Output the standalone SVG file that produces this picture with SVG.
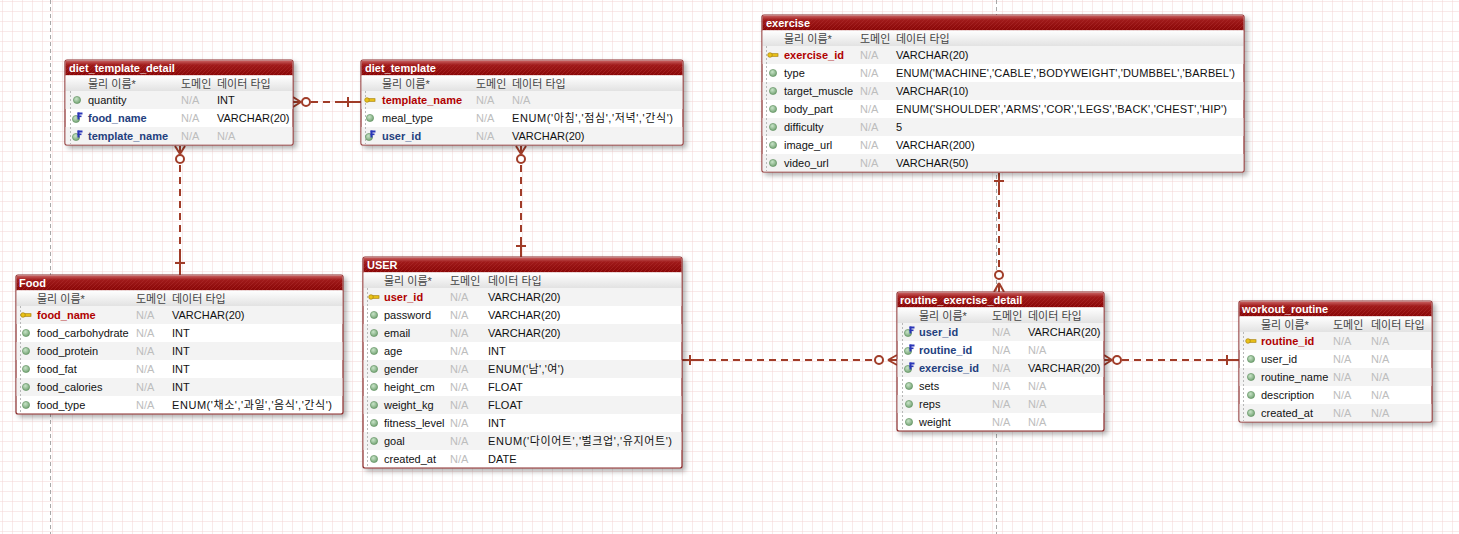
<svg xmlns="http://www.w3.org/2000/svg" width="1459" height="534" viewBox="0 0 1459 534">
<style>
.box{fill:#fff;stroke:#8a2c2c;stroke-width:1.2}
.tb{fill:url(#tg)}
.hatch{fill:url(#hp)}
.hd{fill:url(#hg)}
.alt{fill:#f3f3f3}
.vd{stroke:#b8b8b8;stroke-width:1;stroke-dasharray:2 2}
text{font-family:"Liberation Sans","Noto Sans CJK KR",sans-serif;font-size:11px}
.tt{font-weight:bold;fill:#fff}
.h{fill:#444}
.c{fill:#111}
.pk{font-weight:bold;fill:#b00000}
.fk{font-weight:bold;fill:#23407e}
.na{fill:#bdbdbd}
.ln{stroke:#a03c28;stroke-width:2;fill:none;stroke-dasharray:7 5}
.sl{stroke:#a03c28;stroke-width:2;fill:none}
.ci{stroke:#a03c28;stroke-width:2;fill:#fff}
.dot{fill:url(#gd);stroke:#5d8f5d;stroke-width:0.6}
.key{fill:#e9c21a;stroke:#a8820a;stroke-width:0.7}
.flag{fill:#2a36b8}
.page{stroke:#a8a8a8;stroke-width:1;stroke-dasharray:4 3}
</style>
<defs>
<pattern id="grid" width="10" height="10" patternUnits="userSpaceOnUse" x="3" y="2">
<path d="M10 0V10M0 10H10" stroke="#f2d4d4" stroke-width="1" fill="none"/>
</pattern>
<linearGradient id="tg" x1="0" y1="0" x2="0" y2="1">
<stop offset="0" stop-color="#c86060"/>
<stop offset="0.3" stop-color="#a01a1a"/>
<stop offset="1" stop-color="#880606"/>
</linearGradient>
<pattern id="hp" width="4" height="4" patternUnits="userSpaceOnUse">
<path d="M0 4L4 0" stroke="#b03030" stroke-width="1" opacity="0.5"/>
</pattern>
<linearGradient id="hg" x1="0" y1="0" x2="0" y2="1">
<stop offset="0" stop-color="#ffffff"/>
<stop offset="1" stop-color="#e2e2e2"/>
</linearGradient>
<radialGradient id="gd" cx="0.4" cy="0.35" r="0.7">
<stop offset="0" stop-color="#c8e4c8"/>
<stop offset="1" stop-color="#6f9f6f"/>
</radialGradient>
<filter id="sh" x="-5%" y="-5%" width="115%" height="125%">
<feDropShadow dx="3" dy="3" stdDeviation="2.5" flood-color="#000" flood-opacity="0.3"/>
</filter>
<g id="ipk"><rect x="-1.5" y="-1.3" width="6.5" height="2.6" class="key"/><circle cx="-3" cy="0" r="2.3" class="key"/></g>
<g id="icol"><circle cx="0" cy="0" r="3.6" class="dot"/></g>
<g id="ifk"><circle cx="-1" cy="1" r="3.6" class="dot"/><rect x="0.5" y="-5.5" width="2" height="7" class="flag"/><rect x="0.5" y="-5.5" width="5" height="2" class="flag"/><rect x="0.5" y="-2.5" width="4" height="1.6" class="flag"/></g>
</defs>

<rect width="1459" height="534" fill="#fff"/>
<rect width="1459" height="534" fill="url(#grid)"/>
<line x1="50.5" y1="0" x2="50.5" y2="534" class="page"/>
<line x1="996.5" y1="0" x2="996.5" y2="534" class="page"/>

<g id="connectors">
<path d="M301 102L293 97M301 102H293M301 102L293 107" class="sl"/>
<circle cx="306" cy="102" r="4" class="ci"/>
<line x1="311" y1="102" x2="342" y2="102" class="ln"/>
<path d="M342 102H361M348 97V107" class="sl"/>
<path d="M180 154L175 146M180 154V146M180 154L185 146" class="sl"/>
<circle cx="180" cy="159" r="4" class="ci"/>
<line x1="180" y1="165" x2="180" y2="256" class="ln"/>
<path d="M180 256V275M175 263H185" class="sl"/>
<path d="M521 154L516 146M521 154V146M521 154L526 146" class="sl"/>
<circle cx="521" cy="159" r="4" class="ci"/>
<line x1="521" y1="165" x2="521" y2="240" class="ln"/>
<path d="M521 240V257M516 246H526" class="sl"/>
<path d="M682 360H697M690 355V365" class="sl"/>
<line x1="697" y1="360" x2="874" y2="360" class="ln"/>
<circle cx="879" cy="360" r="4" class="ci"/>
<path d="M888 360L897 355M888 360H897M888 360L897 365" class="sl"/>
<path d="M1112 360L1104 355M1112 360H1104M1112 360L1104 365" class="sl"/>
<circle cx="1117" cy="360" r="4" class="ci"/>
<line x1="1122" y1="360" x2="1221" y2="360" class="ln"/>
<path d="M1221 360H1239M1227 355V365" class="sl"/>
<path d="M999 173V188M994 181H1004" class="sl"/>
<line x1="999" y1="188" x2="999" y2="270" class="ln"/>
<circle cx="999" cy="275" r="4" class="ci"/>
<path d="M999 283L994 292M999 283V292M999 283L1004 292" class="sl"/>
</g>

<g id="diet_template_detail">
<rect x="65" y="60" width="228" height="85" rx="2" class="box" filter="url(#sh)"/>
<rect x="65.6" y="60.6" width="226.8" height="14.8" class="tb"/>
<rect x="65.6" y="64" width="226.8" height="11.4" class="hatch"/>
<rect x="65.6" y="75.4" width="226.8" height="15.6" class="hd"/>
<rect x="65.6" y="91" width="226.8" height="18" class="alt"/>
<rect x="65.6" y="127" width="226.8" height="17.4" class="alt"/>
<line x1="70.5" y1="91" x2="70.5" y2="144" class="vd"/>
<text x="69" y="72" class="tt">diet_template_detail</text>
<text x="88" y="87.5" class="h">물리 이름*</text><text x="181" y="87.5" class="h">도메인</text><text x="217" y="87.5" class="h">데이터 타입</text>
<use href="#icol" x="77" y="100"/><text x="88" y="104" class="c">quantity</text><text x="181" y="104" class="na">N/A</text><text x="217" y="104" class="c">INT</text>
<use href="#ifk" x="77" y="118"/><text x="88" y="122" class="fk">food_name</text><text x="181" y="122" class="na">N/A</text><text x="217" y="122" class="c">VARCHAR(20)</text>
<use href="#ifk" x="77" y="136"/><text x="88" y="140" class="fk">template_name</text><text x="181" y="140" class="na">N/A</text><text x="217" y="140" class="na">N/A</text>
</g>

<g id="diet_template">
<rect x="361" y="60" width="322" height="85" rx="2" class="box" filter="url(#sh)"/>
<rect x="361.6" y="60.6" width="320.8" height="14.8" class="tb"/>
<rect x="361.6" y="64" width="320.8" height="11.4" class="hatch"/>
<rect x="361.6" y="75.4" width="320.8" height="15.6" class="hd"/>
<rect x="361.6" y="91" width="320.8" height="18" class="alt"/>
<rect x="361.6" y="127" width="320.8" height="17.4" class="alt"/>
<line x1="365.5" y1="91" x2="365.5" y2="144" class="vd"/>
<text x="365" y="72" class="tt">diet_template</text>
<text x="382" y="87.5" class="h">물리 이름*</text><text x="476" y="87.5" class="h">도메인</text><text x="512" y="87.5" class="h">데이터 타입</text>
<use href="#ipk" x="370" y="100"/><text x="382" y="104" class="pk">template_name</text><text x="476" y="104" class="na">N/A</text><text x="512" y="104" class="na">N/A</text>
<use href="#icol" x="370" y="118"/><text x="382" y="122" class="c">meal_type</text><text x="476" y="122" class="na">N/A</text><text x="512" y="122" class="c" textLength="161">ENUM('아침','점심','저녁','간식')</text>
<use href="#ifk" x="370" y="136"/><text x="382" y="140" class="fk">user_id</text><text x="476" y="140" class="na">N/A</text><text x="512" y="140" class="c">VARCHAR(20)</text>
</g>

<g id="exercise">
<rect x="762" y="15" width="482" height="157" rx="2" class="box" filter="url(#sh)"/>
<rect x="762.6" y="15.6" width="480.8" height="14.8" class="tb"/>
<rect x="762.6" y="19" width="480.8" height="11.4" class="hatch"/>
<rect x="762.6" y="30.4" width="480.8" height="15.6" class="hd"/>
<rect x="762.6" y="46" width="480.8" height="18" class="alt"/>
<rect x="762.6" y="82" width="480.8" height="18" class="alt"/>
<rect x="762.6" y="118" width="480.8" height="18" class="alt"/>
<rect x="762.6" y="154" width="480.8" height="17.4" class="alt"/>
<line x1="766.5" y1="46" x2="766.5" y2="171" class="vd"/>
<text x="766" y="27" class="tt">exercise</text>
<text x="784" y="42.5" class="h">물리 이름*</text><text x="860" y="42.5" class="h">도메인</text><text x="896" y="42.5" class="h">데이터 타입</text>
<use href="#ipk" x="773" y="55"/><text x="784" y="59" class="pk">exercise_id</text><text x="860" y="59" class="na">N/A</text><text x="896" y="59" class="c">VARCHAR(20)</text>
<use href="#icol" x="773" y="73"/><text x="784" y="77" class="c">type</text><text x="860" y="77" class="na">N/A</text><text x="896" y="77" class="c" textLength="339">ENUM('MACHINE','CABLE','BODYWEIGHT','DUMBBEL','BARBEL')</text>
<use href="#icol" x="773" y="91"/><text x="784" y="95" class="c">target_muscle</text><text x="860" y="95" class="na">N/A</text><text x="896" y="95" class="c">VARCHAR(10)</text>
<use href="#icol" x="773" y="109"/><text x="784" y="113" class="c">body_part</text><text x="860" y="113" class="na">N/A</text><text x="896" y="113" class="c" textLength="331">ENUM('SHOULDER','ARMS','COR','LEGS','BACK','CHEST','HIP')</text>
<use href="#icol" x="773" y="127"/><text x="784" y="131" class="c">difficulty</text><text x="860" y="131" class="na">N/A</text><text x="896" y="131" class="c">5</text>
<use href="#icol" x="773" y="145"/><text x="784" y="149" class="c">image_url</text><text x="860" y="149" class="na">N/A</text><text x="896" y="149" class="c">VARCHAR(200)</text>
<use href="#icol" x="773" y="163"/><text x="784" y="167" class="c">video_url</text><text x="860" y="167" class="na">N/A</text><text x="896" y="167" class="c">VARCHAR(50)</text>
</g>

<g id="Food">
<rect x="16" y="275" width="327" height="139" rx="2" class="box" filter="url(#sh)"/>
<rect x="16.6" y="275.6" width="325.8" height="14.8" class="tb"/>
<rect x="16.6" y="279" width="325.8" height="11.4" class="hatch"/>
<rect x="16.6" y="290.4" width="325.8" height="15.6" class="hd"/>
<rect x="16.6" y="306" width="325.8" height="18" class="alt"/>
<rect x="16.6" y="342" width="325.8" height="18" class="alt"/>
<rect x="16.6" y="378" width="325.8" height="18" class="alt"/>
<line x1="20.5" y1="306" x2="20.5" y2="413" class="vd"/>
<text x="19" y="287" class="tt">Food</text>
<text x="37" y="302.5" class="h">물리 이름*</text><text x="136" y="302.5" class="h">도메인</text><text x="172" y="302.5" class="h">데이터 타입</text>
<use href="#ipk" x="26" y="315"/><text x="37" y="319" class="pk">food_name</text><text x="136" y="319" class="na">N/A</text><text x="172" y="319" class="c">VARCHAR(20)</text>
<use href="#icol" x="26" y="333"/><text x="37" y="337" class="c">food_carbohydrate</text><text x="136" y="337" class="na">N/A</text><text x="172" y="337" class="c">INT</text>
<use href="#icol" x="26" y="351"/><text x="37" y="355" class="c">food_protein</text><text x="136" y="355" class="na">N/A</text><text x="172" y="355" class="c">INT</text>
<use href="#icol" x="26" y="369"/><text x="37" y="373" class="c">food_fat</text><text x="136" y="373" class="na">N/A</text><text x="172" y="373" class="c">INT</text>
<use href="#icol" x="26" y="387"/><text x="37" y="391" class="c">food_calories</text><text x="136" y="391" class="na">N/A</text><text x="172" y="391" class="c">INT</text>
<use href="#icol" x="26" y="405"/><text x="37" y="409" class="c">food_type</text><text x="136" y="409" class="na">N/A</text><text x="172" y="409" class="c" textLength="160">ENUM('채소','과일','음식','간식')</text>
</g>

<g id="USER">
<rect x="363" y="257" width="319" height="211" rx="2" class="box" filter="url(#sh)"/>
<rect x="363.6" y="257.6" width="317.8" height="14.8" class="tb"/>
<rect x="363.6" y="261" width="317.8" height="11.4" class="hatch"/>
<rect x="363.6" y="272.4" width="317.8" height="15.6" class="hd"/>
<rect x="363.6" y="288" width="317.8" height="18" class="alt"/>
<rect x="363.6" y="324" width="317.8" height="18" class="alt"/>
<rect x="363.6" y="360" width="317.8" height="18" class="alt"/>
<rect x="363.6" y="396" width="317.8" height="18" class="alt"/>
<rect x="363.6" y="432" width="317.8" height="18" class="alt"/>
<line x1="367.5" y1="288" x2="367.5" y2="467" class="vd"/>
<text x="367" y="269" class="tt">USER</text>
<text x="384" y="284.5" class="h">물리 이름*</text><text x="450" y="284.5" class="h">도메인</text><text x="488" y="284.5" class="h">데이터 타입</text>
<use href="#ipk" x="374" y="297"/><text x="384" y="301" class="pk">user_id</text><text x="450" y="301" class="na">N/A</text><text x="488" y="301" class="c">VARCHAR(20)</text>
<use href="#icol" x="374" y="315"/><text x="384" y="319" class="c">password</text><text x="450" y="319" class="na">N/A</text><text x="488" y="319" class="c">VARCHAR(20)</text>
<use href="#icol" x="374" y="333"/><text x="384" y="337" class="c">email</text><text x="450" y="337" class="na">N/A</text><text x="488" y="337" class="c">VARCHAR(20)</text>
<use href="#icol" x="374" y="351"/><text x="384" y="355" class="c">age</text><text x="450" y="355" class="na">N/A</text><text x="488" y="355" class="c">INT</text>
<use href="#icol" x="374" y="369"/><text x="384" y="373" class="c">gender</text><text x="450" y="373" class="na">N/A</text><text x="488" y="373" class="c" textLength="76">ENUM('남','여')</text>
<use href="#icol" x="374" y="387"/><text x="384" y="391" class="c">height_cm</text><text x="450" y="391" class="na">N/A</text><text x="488" y="391" class="c">FLOAT</text>
<use href="#icol" x="374" y="405"/><text x="384" y="409" class="c">weight_kg</text><text x="450" y="409" class="na">N/A</text><text x="488" y="409" class="c">FLOAT</text>
<use href="#icol" x="374" y="423"/><text x="384" y="427" class="c">fitness_level</text><text x="450" y="427" class="na">N/A</text><text x="488" y="427" class="c">INT</text>
<use href="#icol" x="374" y="441"/><text x="384" y="445" class="c">goal</text><text x="450" y="445" class="na">N/A</text><text x="488" y="445" class="c" textLength="184">ENUM('다이어트','벌크업','유지어트')</text>
<use href="#icol" x="374" y="459"/><text x="384" y="463" class="c">created_at</text><text x="450" y="463" class="na">N/A</text><text x="488" y="463" class="c">DATE</text>
</g>

<g id="routine_exercise_detail">
<rect x="897" y="292" width="207" height="139" rx="2" class="box" filter="url(#sh)"/>
<rect x="897.6" y="292.6" width="205.8" height="14.8" class="tb"/>
<rect x="897.6" y="296" width="205.8" height="11.4" class="hatch"/>
<rect x="897.6" y="307.4" width="205.8" height="15.6" class="hd"/>
<rect x="897.6" y="323" width="205.8" height="18" class="alt"/>
<rect x="897.6" y="359" width="205.8" height="18" class="alt"/>
<rect x="897.6" y="395" width="205.8" height="18" class="alt"/>
<line x1="902.5" y1="323" x2="902.5" y2="430" class="vd"/>
<text x="900" y="304" class="tt">routine_exercise_detail</text>
<text x="919" y="319.5" class="h">물리 이름*</text><text x="992" y="319.5" class="h">도메인</text><text x="1028" y="319.5" class="h">데이터 타입</text>
<use href="#ifk" x="909" y="332"/><text x="919" y="336" class="fk">user_id</text><text x="992" y="336" class="na">N/A</text><text x="1028" y="336" class="c">VARCHAR(20)</text>
<use href="#ifk" x="909" y="350"/><text x="919" y="354" class="fk">routine_id</text><text x="992" y="354" class="na">N/A</text><text x="1028" y="354" class="na">N/A</text>
<use href="#ifk" x="909" y="368"/><text x="919" y="372" class="fk">exercise_id</text><text x="992" y="372" class="na">N/A</text><text x="1028" y="372" class="c">VARCHAR(20)</text>
<use href="#icol" x="909" y="386"/><text x="919" y="390" class="c">sets</text><text x="992" y="390" class="na">N/A</text><text x="1028" y="390" class="na">N/A</text>
<use href="#icol" x="909" y="404"/><text x="919" y="408" class="c">reps</text><text x="992" y="408" class="na">N/A</text><text x="1028" y="408" class="na">N/A</text>
<use href="#icol" x="909" y="422"/><text x="919" y="426" class="c">weight</text><text x="992" y="426" class="na">N/A</text><text x="1028" y="426" class="na">N/A</text>
</g>

<g id="workout_routine">
<rect x="1239" y="301" width="193" height="121" rx="2" class="box" filter="url(#sh)"/>
<rect x="1239.6" y="301.6" width="191.8" height="14.8" class="tb"/>
<rect x="1239.6" y="305" width="191.8" height="11.4" class="hatch"/>
<rect x="1239.6" y="316.4" width="191.8" height="15.6" class="hd"/>
<rect x="1239.6" y="332" width="191.8" height="18" class="alt"/>
<rect x="1239.6" y="368" width="191.8" height="18" class="alt"/>
<rect x="1239.6" y="404" width="191.8" height="17.4" class="alt"/>
<line x1="1243.5" y1="332" x2="1243.5" y2="421" class="vd"/>
<text x="1242" y="313" class="tt">workout_routine</text>
<text x="1261" y="328.5" class="h">물리 이름*</text><text x="1333" y="328.5" class="h">도메인</text><text x="1371" y="328.5" class="h">데이터 타입</text>
<use href="#ipk" x="1251" y="341"/><text x="1261" y="345" class="pk">routine_id</text><text x="1333" y="345" class="na">N/A</text><text x="1371" y="345" class="na">N/A</text>
<use href="#icol" x="1251" y="359"/><text x="1261" y="363" class="c">user_id</text><text x="1333" y="363" class="na">N/A</text><text x="1371" y="363" class="na">N/A</text>
<use href="#icol" x="1251" y="377"/><text x="1261" y="381" class="c">routine_name</text><text x="1333" y="381" class="na">N/A</text><text x="1371" y="381" class="na">N/A</text>
<use href="#icol" x="1251" y="395"/><text x="1261" y="399" class="c">description</text><text x="1333" y="399" class="na">N/A</text><text x="1371" y="399" class="na">N/A</text>
<use href="#icol" x="1251" y="413"/><text x="1261" y="417" class="c">created_at</text><text x="1333" y="417" class="na">N/A</text><text x="1371" y="417" class="na">N/A</text>
</g>
</svg>
